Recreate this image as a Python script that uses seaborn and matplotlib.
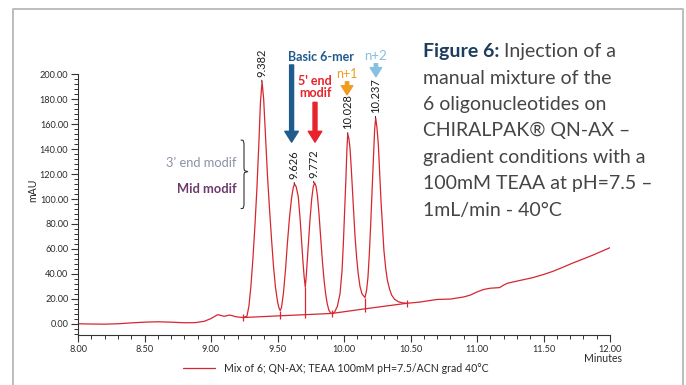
import numpy as np
import pandas as pd
import matplotlib
matplotlib.use("Agg")
import matplotlib.pyplot as plt
import seaborn as sns
from matplotlib.lines import Line2D
from matplotlib.ticker import MultipleLocator, FormatStrFormatter

# ---------------- data ----------------
time_min = [8.00, 8.10, 8.20, 8.30, 8.40, 8.50, 8.60, 8.70, 8.80, 8.88, 8.95, 9.00,
            9.05, 9.10, 9.14, 9.19, 9.24, 9.27, 9.285, 9.30, 9.315, 9.33, 9.345, 9.36,
            9.372, 9.384, 9.396, 9.41, 9.425, 9.44, 9.455, 9.47, 9.485, 9.50, 9.51, 9.52,
            9.53, 9.544, 9.56, 9.574, 9.59, 9.606, 9.618, 9.628, 9.64, 9.656, 9.67, 9.68,
            9.69, 9.70, 9.709, 9.716, 9.724, 9.735, 9.744, 9.757, 9.769, 9.78, 9.79, 9.80,
            9.812, 9.824, 9.837, 9.85, 9.862, 9.874, 9.886, 9.90, 9.915, 9.93, 9.95, 9.97,
            9.985, 9.995, 10.005, 10.015, 10.022, 10.028, 10.036, 10.045, 10.055, 10.065,
            10.075, 10.083, 10.095, 10.107, 10.12, 10.135, 10.158, 10.17, 10.18, 10.19,
            10.20, 10.21, 10.22, 10.23, 10.238, 10.247, 10.258, 10.268, 10.278, 10.29,
            10.30, 10.313, 10.326, 10.342, 10.358, 10.38, 10.41, 10.44, 10.47, 10.57,
            10.70, 10.80, 10.90, 10.95, 11.00, 11.05, 11.10, 11.17, 11.20, 11.23, 11.30,
            11.42, 11.50, 11.57, 11.65, 11.72, 11.80, 11.87, 11.94, 12.00]
signal_mau = [0.0, -0.2, -0.3, 0.0, 0.7, 1.3, 1.6, 1.3, 0.8, 0.9, 2.0, 4.2,
              7.3, 6.0, 7.0, 5.6, 5.0, 6.0, 14, 30, 52, 78, 108, 145,
              178, 194, 180, 150, 118, 92, 68, 46, 29, 18, 13, 10.6,
              13, 24, 43, 64, 85, 101, 109, 112, 110, 102, 84, 68,
              52, 38, 29.4, 38, 51, 68, 83, 100, 110, 113, 110, 103,
              88, 70, 51, 35, 24, 16, 11, 8.5, 8.2, 9.5, 14, 24,
              42, 64, 90, 118, 140, 152, 149, 141, 124, 104,
              85, 70, 53, 40, 30, 24, 21, 27, 37, 55,
              78, 104, 131, 155, 165, 158, 144, 122, 99, 77,
              59, 45, 35, 28, 23, 19.7, 17.6, 16.8, 16.4, 17.4,
              19.5, 19.8, 21.5, 23, 25.5, 27.5, 28.5, 29, 31, 32.5, 34.2,
              37, 39.5, 42, 45.5, 48.7, 52, 55, 58.2, 61]

# integration baseline and peak boundaries
base_time = [9.24, 9.52, 9.709, 9.91, 10.158, 10.47]
base_mau = [5.0, 6.4, 7.3, 8.3, 12.0, 16.4]
drop_time = [9.52, 9.709, 10.158]
drop_top = [10.6, 29.4, 21.0]
drop_bot = [4.0, 4.5, 9.5]
mark_time = [9.24, 9.91, 10.47]
mark_mau = [5.0, 8.3, 16.4]

# peak labels
peak_rt = [9.382, 9.626, 9.772, 10.028, 10.237]
peak_height = [194, 112, 113, 152, 165]
peak_labels = ["9.382", "9.626", "9.772", "10.028", "10.237"]

legend_label = "Mix of 6; QN-AX; TEAA 100mM pH=7.5/ACN grad 40°C"
caption_lines = ["Injection of a", "manual mixture of the", "6 oligonucleotides on",
                 "CHIRALPAK® QN-AX –", "gradient conditions with a",
                 "100mM TEAA at pH=7.5 –", "1mL/min - 40°C"]

# ---------------- style ----------------
sns.set_theme(style="ticks")
plt.rcParams["font.family"] = ["Lato", "DejaVu Sans"]

RED = "#d6262f"
W, H = 686, 385
fig = plt.figure(figsize=(W / 100, H / 100), dpi=100)
ax = fig.add_axes([78 / W, 1 - 335 / H, (610 - 78) / W, (335 - 74.3) / H])

df = pd.DataFrame({"Minutes": time_min, "mAU": signal_mau})
sns.lineplot(data=df, x="Minutes", y="mAU", ax=ax, color=RED, lw=0.9,
             estimator=None, sort=False, label=legend_label, legend=False)
dfb = pd.DataFrame({"t": base_time, "v": base_mau})
sns.lineplot(data=dfb, x="t", y="v", ax=ax, color=RED, lw=0.9,
             estimator=None, sort=False, legend=False)
ax.vlines(drop_time, drop_bot, drop_top, color=RED, lw=0.9)
ax.vlines(mark_time, np.array(mark_mau) - 3, np.array(mark_mau) + 3, color=RED, lw=0.9)

ax.set_xlim(8, 12)
ax.set_ylim(-9, 200)
ax.xaxis.set_major_locator(MultipleLocator(0.5))
ax.xaxis.set_minor_locator(MultipleLocator(0.1))
ax.yaxis.set_major_locator(MultipleLocator(20))
ax.yaxis.set_minor_locator(MultipleLocator(4))
ax.xaxis.set_major_formatter(FormatStrFormatter("%.2f"))
ax.yaxis.set_major_formatter(FormatStrFormatter("%.2f"))
ax.set_xlabel("")
ax.set_ylabel("")
for s in ["top", "right"]:
    ax.spines[s].set_visible(False)
for s in ["left", "bottom"]:
    ax.spines[s].set_color("#333333")
    ax.spines[s].set_linewidth(0.8)
ax.tick_params(which="major", length=5, width=0.8, color="#333333",
               labelsize=6.6, labelcolor="#2a2a2a", pad=2)
ax.tick_params(which="minor", length=2.8, width=0.7, color="#333333")
ax.set_facecolor("white")

# peak labels
for rt, h, lab in zip(peak_rt, peak_height, peak_labels):
    ax.annotate(lab, xy=(rt, h), xytext=(0, 3.5), textcoords="offset points",
                rotation=90, ha="center", va="bottom", fontsize=8.0, color="#1a1a1a",
                arrowprops=dict(arrowstyle="-", lw=0.7, color="#222222",
                                shrinkA=0, shrinkB=0),
                annotation_clip=False)

# arrows + annotations
def arrow(x, y0, y1, color, scale):
    ax.annotate("", xy=(x, y1), xytext=(x, y0),
                arrowprops=dict(arrowstyle="simple,head_length=0.6,head_width=0.75,tail_width=0.22",
                                color=color, mutation_scale=scale, shrinkA=0, shrinkB=0),
                annotation_clip=False)

BLUE = "#1f5b8c"
arrow(9.606, 207.5, 145.6, BLUE, 13)
ax.text(9.83, 214, "Basic 6-mer", color=BLUE, fontsize=9, fontweight="bold",
        ha="center", va="center", clip_on=False)
RED2 = "#e8232b"
arrow(9.782, 177.5, 145.6, RED2, 13)
ax.text(9.782, 189.8, "5' end\nmodif", color=RED2, fontsize=9, fontweight="bold",
        ha="center", va="center", linespacing=0.92, clip_on=False)
ORANGE = "#f39b20"
arrow(10.023, 194, 183.5, ORANGE, 11)
ax.text(10.023, 200.5, "n+1", color=ORANGE, fontsize=9, ha="center", va="center", clip_on=False)
LBLUE = "#86c1e0"
arrow(10.24, 208.5, 198, LBLUE, 11)
ax.text(10.24, 214.5, "n+2", color=LBLUE, fontsize=9.5, ha="center", va="center", clip_on=False)

ax.text(9.195, 129, "3' end modif", color="#8a93a6", fontsize=9.3, ha="right", va="center")
ax.text(9.195, 108, "Mid modif", color="#6c3a6d", fontsize=9.3, fontweight="bold",
        ha="right", va="center")

# curly brace
xl, xm, xt = 9.226, 9.248, 9.276
yt, ym, yb = 147.0, 122.0, 92.6
bx = [xl, xm - 0.006, xm, xm, xm + 0.004, xt, xm + 0.004, xm, xm, xm - 0.006, xl]
by = [yt + 0.3, yt, yt - 2.5, ym + 2.5, ym + 0.8, ym, ym - 0.8, ym - 2.5, yb + 2.5, yb, yb - 0.3]
ax.plot(bx, by, color="#333333", lw=0.8, clip_on=False)

# axis labels
fig.text(33 / W, 1 - 190 / H, "mAU", rotation=90, ha="center", va="center",
         fontsize=7.6, color="#2a2a2a")
fig.text(622 / W, 1 - 359 / H, "Minutes", ha="right", va="center",
         fontsize=7.6, color="#2a2a2a")

# legend
fig.legend(handles=[Line2D([0], [0], color=RED, lw=0.9)], labels=[legend_label],
           loc="center", bbox_to_anchor=(336 / W, 1 - 368 / H), frameon=False,
           fontsize=7.6, handlelength=3.0, handletextpad=0.9, labelcolor="#2a2a2a")

# caption
x0 = 423 / W
base0 = 57.3
step = 26.4
CAP = 14.0
t0 = fig.text(x0, 1 - base0 / H, "Figure 6:", fontsize=CAP, fontweight="bold",
              color="#1d3d5e", ha="left", va="baseline")
ax.annotate(" " + caption_lines[0], xy=(1, 0), xycoords=t0, fontsize=CAP,
            color="#454545", ha="left", va="bottom")
for i, line in enumerate(caption_lines[1:], start=1):
    fig.text(x0, 1 - (base0 + i * step) / H, line, fontsize=CAP, color="#454545",
             ha="left", va="baseline")

# border
fig.add_artist(Line2D([13 / W, 13 / W, 683 / W, 683 / W], [0, 1 - 9 / H, 1 - 9 / H, 0],
                      transform=fig.transFigure, color="#b8b8b8", lw=1.3))

fig.savefig("out.png", dpi=100, facecolor="white")
